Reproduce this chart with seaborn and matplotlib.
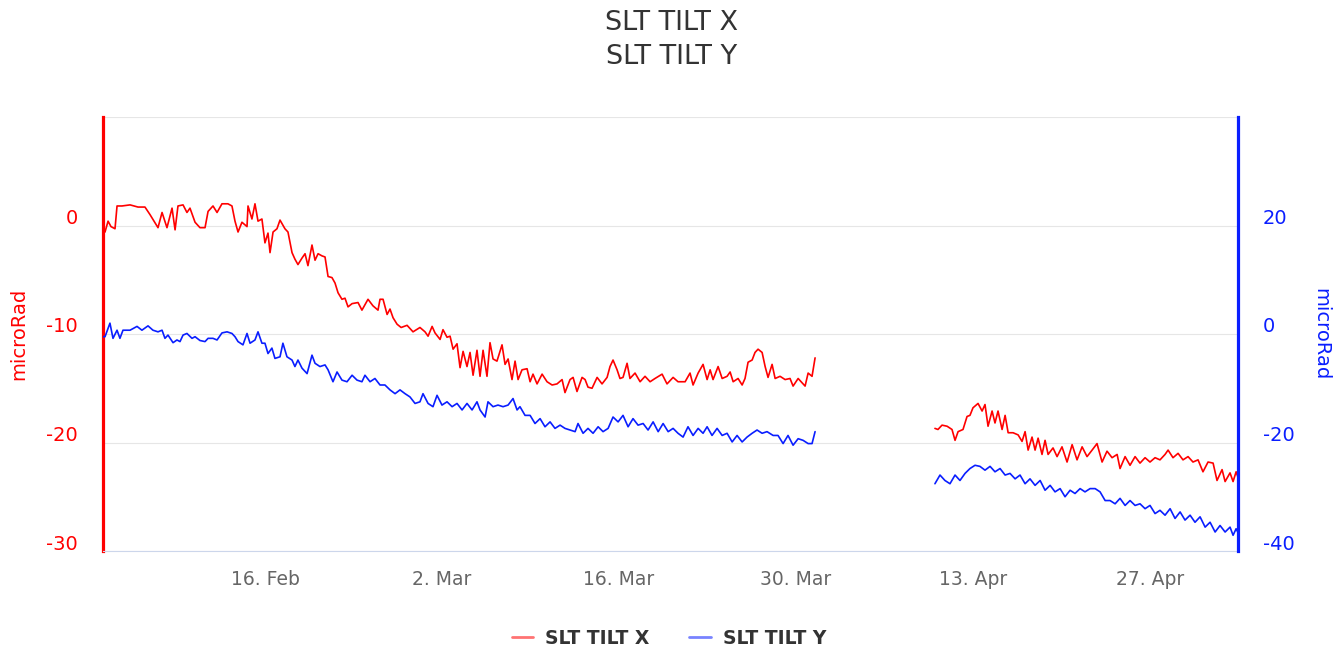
import numpy as np
import pandas as pd
import matplotlib
matplotlib.use("Agg")
import matplotlib.pyplot as plt
import seaborn as sns
from matplotlib.transforms import ScaledTranslation
from matplotlib.lines import Line2D

# ---------------- data (days since 2015-02-03 00:00) ----------------
start_date = "2015-02-03"

tilt_x_days_a = [0.19, 0.35, 0.59, 0.82, 1.14, 1.30, 1.69, 2.33, 2.96, 3.51, 3.91, 4.54, 4.86, 5.25, 5.65, 5.89,
                 6.12, 6.52, 6.83, 7.07, 7.47, 7.86, 8.26, 8.50, 8.89, 9.21, 9.60, 10.07, 10.39, 10.63, 10.87,
                 11.18, 11.58, 11.66, 11.97, 12.21, 12.45, 12.76, 13.00, 13.24, 13.40, 13.64, 13.95, 14.19,
                 14.58, 14.82, 15.14, 15.37, 15.61, 15.93, 16.17, 16.40, 16.72, 16.96, 17.20, 17.51, 17.75,
                 17.99, 18.30, 18.54, 18.78, 19.09, 19.33, 19.57, 19.89, 20.36, 20.67, 21.15, 21.54, 21.94,
                 22.10, 22.34, 22.66, 22.89, 23.13, 23.45, 23.77, 24.24, 24.71, 25.26, 25.66, 25.90, 26.22,
                 26.45, 26.85, 27.08, 27.40, 27.64, 27.88, 28.19, 28.43, 28.67, 28.98, 29.22, 29.46, 29.77,
                 30.01, 30.25, 30.56, 30.80, 31.04, 31.35, 31.75, 31.99, 32.23, 32.54, 32.78, 33.02, 33.33,
                 33.73, 33.97, 34.20, 34.52, 34.92, 35.31, 35.71, 36.10, 36.50, 36.73, 37.13, 37.37, 37.68,
                 38.08, 38.32, 38.55, 38.87, 39.27, 39.66, 40.06, 40.29, 40.53, 40.85, 41.08, 41.32, 41.64,
                 41.87, 42.27, 42.67, 43.06, 43.46, 43.85, 44.41, 44.80, 45.28, 45.67, 46.23, 46.62, 46.86,
                 47.26, 47.65, 47.97, 48.21, 48.44, 48.84, 49.16, 49.55, 49.79, 50.03, 50.42, 50.74, 50.97,
                 51.21, 51.53, 51.76, 52.00, 52.32, 52.56, 52.79, 53.11, 53.35, 53.74, 54.14, 54.53, 54.77,
                 55.17, 55.48, 55.72, 55.96, 56.27, 56.51]
tilt_x_vals_a = [-0.4, -0.6, 0.4, -0.1, -0.3, 1.8, 1.8, 1.9, 1.7, 1.7, 1.0, -0.2, 1.2, -0.2, 1.6, -0.4,
                 1.8, 1.9, 1.2, 1.6, 0.3, -0.2, -0.2, 1.3, 1.8, 1.2, 2.0, 2.0, 1.8, 0.4, -0.6,
                 0.3, -0.1, 1.8, 0.6, 2.0, 0.4, 0.6, -1.6, -0.7, -2.5, -0.6, -0.3, 0.5,
                 -0.3, -0.6, -2.5, -3.1, -3.6, -3.0, -2.6, -3.7, -1.8, -3.2, -2.6, -2.8, -2.9,
                 -4.7, -4.8, -5.3, -6.2, -6.8, -6.7, -7.5, -7.2, -7.1, -7.8, -6.8, -7.4, -7.8,
                 -6.8, -6.8, -8.2, -7.7, -8.5, -9.1, -9.4, -9.2, -9.8, -9.4, -9.8, -10.2, -9.3,
                 -9.9, -10.5, -9.6, -10.3, -10.2, -11.4, -10.9, -13.1, -11.6, -13.0, -11.7, -13.8, -11.5,
                 -13.9, -11.5, -13.9, -10.8, -12.3, -12.5, -11.0, -12.8, -12.3, -14.2, -12.5, -14.2, -13.3,
                 -13.2, -14.4, -13.7, -14.6, -13.7, -14.4, -14.7, -14.6, -14.2, -15.4, -14.2, -14.0, -15.3,
                 -14.0, -14.2, -14.9, -15.0, -14.0, -14.6, -14.0, -13.0, -12.4, -13.3, -14.1, -14.0, -12.7,
                 -14.1, -13.6, -14.4, -13.9, -14.4, -14.1, -13.7, -14.6, -14.0, -14.4, -14.4, -13.6, -14.7,
                 -13.6, -12.8, -14.2, -13.3, -14.2, -13.0, -14.1, -13.9, -13.5, -14.4, -14.1, -14.7, -14.1,
                 -12.6, -12.4, -11.7, -11.4, -11.7, -13.0, -14.0, -12.8, -14.1, -13.9, -14.2, -14.1, -14.8,
                 -14.1, -14.5, -14.8, -13.6, -13.9, -12.2]

tilt_x_days_b = [65.99, 66.23, 66.55, 66.95, 67.34, 67.58, 67.82, 68.21, 68.53, 68.76, 69.00, 69.40, 69.72,
                 69.95, 70.19, 70.51, 70.74, 70.98, 71.30, 71.54, 71.78, 72.17, 72.57, 72.88, 73.12, 73.36,
                 73.67, 73.91, 74.15, 74.46, 74.70, 74.94, 75.33, 75.65, 76.04, 76.44, 76.84, 77.23, 77.63,
                 78.02, 78.42, 78.81, 79.21, 79.60, 80.00, 80.40, 80.63, 81.03, 81.42, 81.82, 82.21, 82.61,
                 83.00, 83.40, 83.79, 84.19, 84.43, 84.82, 85.22, 85.61, 86.01, 86.40, 86.80, 87.19, 87.59,
                 87.99, 88.30, 88.70, 88.94, 89.33, 89.57, 89.81, 89.96]
tilt_x_vals_b = [-18.7, -18.8, -18.4, -18.5, -18.8, -19.8, -19.0, -18.8, -17.6, -17.5, -16.8, -16.4, -17.1,
                 -16.5, -18.5, -17.1, -18.2, -17.1, -18.8, -17.5, -19.1, -19.1, -19.3, -19.9, -19.0, -20.7,
                 -19.5, -20.7, -19.6, -21.1, -19.8, -21.1, -20.5, -21.3, -20.4, -21.8, -20.2, -21.6, -20.4,
                 -21.3, -20.7, -20.1, -21.8, -20.8, -21.4, -21.1, -22.4, -21.3, -22.1, -21.3, -21.9, -21.4,
                 -21.8, -21.4, -21.6, -21.1, -20.7, -21.4, -21.0, -21.6, -21.3, -21.8, -21.6, -22.7, -21.8,
                 -21.9, -23.5, -22.5, -23.6, -22.8, -23.6, -22.7, -23.2]

tilt_y_days_a = [0.19, 0.35, 0.74, 0.98, 1.30, 1.53, 1.77, 2.33, 2.88, 3.27, 3.75, 4.14, 4.54, 4.86, 5.09,
                 5.33, 5.73, 6.04, 6.28, 6.52, 6.83, 7.23, 7.47, 7.86, 8.26, 8.50, 8.89, 9.21, 9.60, 10.00,
                 10.39, 10.63, 10.87, 11.26, 11.58, 11.82, 12.21, 12.45, 12.76, 13.00, 13.24, 13.55, 13.79,
                 14.19, 14.42, 14.74, 15.14, 15.37, 15.61, 15.93, 16.33, 16.72, 16.96, 17.35, 17.75, 17.99,
                 18.38, 18.70, 19.09, 19.49, 19.89, 20.28, 20.67, 20.91, 21.31, 21.70, 22.10, 22.49, 22.89,
                 23.29, 23.68, 24.08, 24.47, 24.87, 25.26, 25.50, 25.90, 26.29, 26.61, 27.00, 27.40, 27.80,
                 28.19, 28.59, 28.98, 29.38, 29.77, 30.01, 30.41, 30.64, 31.04, 31.43, 31.83, 32.23, 32.62,
                 32.94, 33.17, 33.57, 33.97, 34.36, 34.76, 35.15, 35.55, 35.94, 36.34, 36.73, 37.13, 37.53,
                 37.76, 38.16, 38.55, 38.95, 39.35, 39.74, 40.14, 40.53, 40.93, 41.32, 41.72, 42.11, 42.51,
                 42.91, 43.30, 43.70, 44.10, 44.49, 44.89, 45.28, 45.67, 46.07, 46.46, 46.86, 47.26, 47.65,
                 47.97, 48.36, 48.76, 49.16, 49.55, 49.95, 50.34, 50.74, 51.13, 51.53, 51.92, 52.32, 52.71,
                 53.19, 53.58, 53.98, 54.37, 54.77, 55.17, 55.56, 55.96, 56.27, 56.51]
tilt_y_vals_a = [-0.5, -0.5, 2.0, -0.8, 0.7, -0.8, 0.7, 0.7, 1.4, 0.7, 1.5, 0.7, 0.4, 0.7, -0.8,
                 -0.2, -1.6, -1.1, -1.4, -0.2, 0.1, -0.8, -0.5, -1.2, -1.4, -0.8, -0.8, -1.1, 0.2, 0.4,
                 0.1, -0.5, -1.4, -2.0, 0.1, -1.7, -1.1, 0.4, -1.7, -1.7, -3.6, -2.6, -4.5,
                 -4.2, -1.7, -4.2, -4.8, -6.0, -4.8, -6.3, -7.3, -3.9, -5.4, -6.0, -5.7, -6.6,
                 -8.8, -7.0, -8.5, -8.8, -7.6, -8.5, -8.8, -7.6, -8.8, -8.2, -9.4, -9.4, -10.3,
                 -11.0, -10.3, -11.0, -11.6, -12.8, -12.5, -11.0, -12.8, -13.4, -11.3, -13.1, -12.5, -13.4,
                 -12.8, -14.0, -12.8, -14.0, -12.5, -14.0, -15.3, -12.5, -13.4, -13.1, -13.4, -13.1, -11.9,
                 -14.0, -13.4, -15.0, -15.0, -16.5, -15.6, -17.1, -16.2, -17.4, -16.8, -17.4, -17.7, -18.0,
                 -16.5, -18.3, -17.4, -18.3, -17.1, -18.0, -17.4, -15.3, -16.2, -15.0, -17.1, -15.6, -16.8,
                 -16.5, -17.7, -16.2, -18.0, -16.5, -18.0, -17.4, -18.3, -19.0, -17.1, -18.7, -17.4, -18.3,
                 -17.1, -18.7, -17.4, -18.7, -18.3, -19.9, -18.7, -19.9, -19.0, -18.3, -17.7, -18.3, -18.0,
                 -18.7, -18.7, -20.2, -18.7, -20.5, -19.3, -19.6, -20.2, -20.2, -18.0]

tilt_y_days_b = [65.99, 66.39, 66.78, 67.18, 67.58, 67.97, 68.37, 68.76, 69.16, 69.55, 69.95, 70.35, 70.74,
                 71.14, 71.54, 71.93, 72.33, 72.72, 73.12, 73.51, 73.91, 74.31, 74.70, 75.10, 75.49, 75.89,
                 76.28, 76.68, 77.07, 77.47, 77.86, 78.26, 78.66, 79.05, 79.45, 79.84, 80.24, 80.63, 81.03,
                 81.42, 81.82, 82.21, 82.61, 83.00, 83.40, 83.79, 84.19, 84.59, 84.98, 85.38, 85.77, 86.17,
                 86.56, 86.96, 87.36, 87.75, 88.15, 88.54, 88.94, 89.33, 89.57, 89.81, 89.96]
tilt_y_vals_b = [-27.6, -26.0, -27.0, -27.6, -26.0, -27.0, -25.7, -24.8, -24.2, -24.4, -25.1, -24.4, -25.4,
                 -24.8, -26.0, -25.7, -26.7, -26.0, -27.6, -26.7, -27.9, -27.0, -28.8, -27.9, -29.1, -28.5,
                 -30.0, -28.8, -29.4, -28.5, -29.1, -28.5, -28.5, -29.1, -30.7, -30.7, -31.3, -30.3, -31.6,
                 -30.7, -31.6, -31.3, -32.2, -31.6, -33.1, -32.5, -33.4, -32.2, -34.0, -32.8, -34.3, -33.4,
                 -34.7, -33.7, -35.6, -34.7, -36.5, -35.3, -36.5, -35.6, -37.1, -35.9, -36.6]

series_names = ["SLT TILT X", "SLT TILT Y"]
axis_title = "microRad"
tick_dates = ["2015-02-16", "2015-03-02", "2015-03-16", "2015-03-30", "2015-04-13", "2015-04-27"]
tick_labels = ["16. Feb", "2. Mar", "16. Mar", "30. Mar", "13. Apr", "27. Apr"]
left_ticks = [-30, -20, -10, 0, 10]
left_tick_labels = ["-30", "-20", "-10", "0", ""]
right_ticks = [-40, -20, 0, 20, 40]
right_tick_labels = ["-40", "-20", "0", "20", ""]

# ---------------- build frames ----------------
base = pd.Timestamp(start_date)


def make_frame(days_a, vals_a, days_b, vals_b):
    da = pd.DataFrame({"days": days_a, "value": vals_a, "segment": 0})
    db = pd.DataFrame({"days": days_b, "value": vals_b, "segment": 1})
    df = pd.concat([da, db], ignore_index=True)
    df["date"] = base + pd.to_timedelta(df["days"], unit="D")
    return df


df_x = make_frame(tilt_x_days_a, tilt_x_vals_a, tilt_x_days_b, tilt_x_vals_b)
df_y = make_frame(tilt_y_days_a, tilt_y_vals_a, tilt_y_days_b, tilt_y_vals_b)

# ---------------- figure ----------------
sns.set_style("white")
plt.rcParams["font.family"] = ["DejaVu Sans"]

RED = "#ff0000"
BLUE = "#0a1eff"
W, H = 1333, 648
fig = plt.figure(figsize=(W / 100, H / 100), dpi=100)
fig.patch.set_facecolor("white")
ax = fig.add_axes([103 / W, 1 - 551 / H, 1135 / W, 434 / H])
ax2 = ax.twinx()

sns.lineplot(data=df_x, x="date", y="value", units="segment", estimator=None,
             color=RED, lw=1.2, ax=ax, legend=False)
sns.lineplot(data=df_y, x="date", y="value", units="segment", estimator=None,
             color=BLUE, lw=1.2, ax=ax2, legend=False)

xmin = df_x["date"].min()
xmax = df_x["date"].max()
ax.set_xlim(xmin, xmax)
ax.set_ylim(-30, 10)
ax2.set_ylim(-40, 40)

ax.set_xticks(pd.to_datetime(tick_dates))
ax.set_xticklabels(tick_labels)
ax.set_yticks(left_ticks)
ax.set_yticklabels(left_tick_labels)
ax2.set_yticks(right_ticks)
ax2.set_yticklabels(right_tick_labels)

ax.set_xlabel("")
ax.set_ylabel("")
ax2.set_ylabel("")

ax.yaxis.grid(True, color="#e6e6e6", lw=0.8)
ax.xaxis.grid(False)
ax2.grid(False)
ax.set_axisbelow(True)

for s in ["top", "right"]:
    ax.spines[s].set_visible(False)
ax.spines["left"].set_color(RED)
ax.spines["left"].set_linewidth(2.3)
ax.spines["bottom"].set_color("#ccd6eb")
ax.spines["bottom"].set_linewidth(0.8)
for s in ["top", "left", "bottom"]:
    ax2.spines[s].set_visible(False)
ax2.spines["right"].set_color(BLUE)
ax2.spines["right"].set_linewidth(2.3)

ax.tick_params(axis="x", length=11.5, width=0.8, color="#ccd6eb", labelcolor="#666666",
               labelsize=13.5, pad=2, direction="out")
ax.tick_params(axis="y", length=0, labelcolor=RED, labelsize=14, pad=18)
ax2.tick_params(axis="y", length=0, labelcolor=BLUE, labelsize=14, pad=18)

off = ScaledTranslation(0, 0.09, fig.dpi_scale_trans)
for lbl in ax.get_yticklabels() + ax2.get_yticklabels():
    lbl.set_transform(lbl.get_transform() + off)

# axis titles
fig.text(19 / W, 1 - 334 / H, axis_title, color=RED, fontsize=14, rotation=90,
         ha="center", va="center")
fig.text(1321 / W, 1 - 334 / H, axis_title, color=BLUE, fontsize=14, rotation=270,
         ha="center", va="center")

# title
fig.text(672 / W, 1 - 23 / H, series_names[0], color="#333333", fontsize=19.5, ha="center", va="center")
fig.text(672 / W, 1 - 57 / H, series_names[1], color="#333333", fontsize=19.5, ha="center", va="center")

# legend
handles = [Line2D([0], [0], color=RED, lw=2, alpha=0.55),
           Line2D([0], [0], color=BLUE, lw=2, alpha=0.55)]
leg = fig.legend(handles, series_names, loc="center", bbox_to_anchor=(669 / W, 1 - 638 / H),
                 ncol=2, frameon=False, handlelength=1.15, handletextpad=0.65, columnspacing=2.1,
                 prop={"weight": "bold", "size": 13.5})
for t in leg.get_texts():
    t.set_color("#333333")

fig.savefig("out.png", dpi=100, facecolor="white")
